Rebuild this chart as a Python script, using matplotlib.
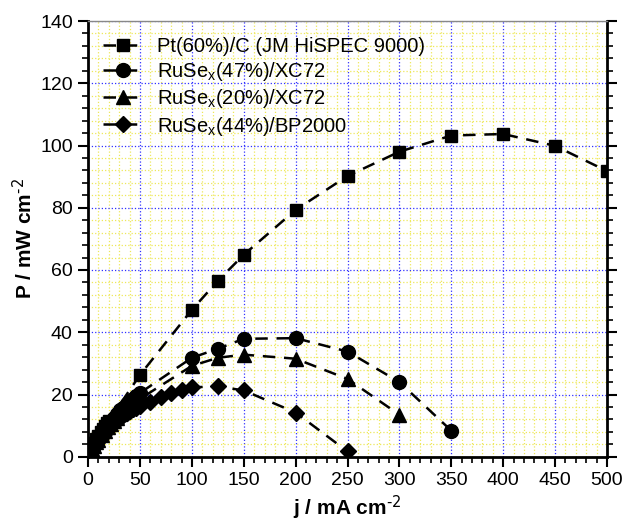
import numpy as np
import matplotlib
matplotlib.use("Agg")
import matplotlib.pyplot as plt
from matplotlib.ticker import MultipleLocator

plt.rcParams['font.family'] = ['Liberation Sans', 'DejaVu Sans']
plt.rcParams['mathtext.default'] = 'regular'

# Power density curves, j in mA cm-2, P in mW cm-2
j_pt = [0, 2, 4, 6, 8, 10, 12, 14, 16, 18, 20, 50, 100, 125, 150,
        200, 250, 300, 350, 400, 450, 500]
p_pt = [0, 1.5, 3.0, 4.3, 5.6, 6.8, 7.9, 8.9, 9.9, 10.8, 11.6, 26.3, 47.2,
        56.5, 64.9, 79.3, 90.2, 98.0, 103.2, 103.7, 99.9, 91.8]

j_low = [0, 2, 4, 6, 8, 10, 13, 16, 19, 22, 25, 28, 31, 34, 37, 40, 43, 46, 50]

j_ru47 = j_low + [100, 125, 150, 200, 250, 300, 350]
p_ru47 = [0, 1.4, 2.7, 3.9, 5.0, 6.0, 7.5, 8.9, 10.2, 11.4, 12.6, 13.7,
          14.9, 15.8, 16.8, 17.8, 18.7, 19.6, 20.5,
          31.8, 34.7, 37.9, 38.1, 33.8, 24.0, 8.4]

j_ru20 = j_low + [100, 125, 150, 200, 250, 300]
p_ru20 = [0, 1.3, 2.5, 3.6, 4.6, 5.5, 6.9, 8.2, 9.4, 10.5, 11.6, 12.6,
          13.6, 14.5, 15.4, 16.3, 17.1, 17.8, 18.6,
          29.2, 31.8, 32.8, 31.5, 25.0, 13.5]

j_ru44 = j_low + [60, 70, 80, 90, 100, 125, 150, 200, 250]
p_ru44 = [0, 1.2, 2.3, 3.3, 4.3, 5.2, 6.5, 7.7, 8.8, 9.8, 10.8, 11.7,
          12.5, 13.3, 14.0, 14.7, 15.3, 15.8, 16.4,
          17.7, 19.3, 20.5, 21.5, 22.3, 22.6, 21.3, 14.2, 1.7]

labels = ['Pt(60%)/C (JM HiSPEC 9000)',
          'RuSe$_x$(47%)/XC72',
          'RuSe$_x$(20%)/XC72',
          'RuSe$_x$(44%)/BP2000']

fig = plt.figure(figsize=(6.25, 5.25), dpi=100)
ax = fig.add_axes([0.141, 0.130, 0.830, 0.830])

style = dict(color='black', linewidth=1.8, linestyle=(0, (5, 3.5)))
ax.plot(j_pt, p_pt, marker='s', markersize=9, label=labels[0], **style)
ax.plot(j_ru47, p_ru47, marker='o', markersize=10, label=labels[1], **style)
ax.plot(j_ru20, p_ru20, marker='^', markersize=10, label=labels[2], **style)
ax.plot(j_ru44, p_ru44, marker='D', markersize=8.5, label=labels[3], **style)

ax.set_xlim(0, 500)
ax.set_ylim(0, 140)
ax.xaxis.set_major_locator(MultipleLocator(50))
ax.xaxis.set_minor_locator(MultipleLocator(10))
ax.yaxis.set_major_locator(MultipleLocator(20))
ax.yaxis.set_minor_locator(MultipleLocator(4))

ax.grid(which='minor', color='#eee85a', linestyle=':', linewidth=0.9)
ax.grid(which='major', color='#3030ff', linestyle=':', linewidth=0.9)
ax.set_axisbelow(True)

for side in ['left', 'bottom', 'right']:
    ax.spines[side].set_linewidth(2)
ax.spines['top'].set_linewidth(1)
ax.spines['top'].set_color('#888888')

ax.tick_params(which='major', direction='out', length=7, width=1.5,
               labelsize=14, right=True, top=False, pad=4)
ax.tick_params(which='minor', direction='out', length=4.5, width=1.2,
               right=True, top=False)

ax.set_xlabel('j / mA cm$^{\\text{-2}}$', fontsize=15, fontweight='bold',
              labelpad=3)
ax.set_ylabel('P / mW cm$^{\\text{-2}}$', fontsize=15, fontweight='bold',
              labelpad=3)

ax.legend(loc='upper left', frameon=False, fontsize=14.5, handlelength=2.0,
          handletextpad=0.7, labelspacing=0.2, borderaxespad=0.2,
          bbox_to_anchor=(0.005, 0.99))

fig.savefig('out.png', dpi=100)
